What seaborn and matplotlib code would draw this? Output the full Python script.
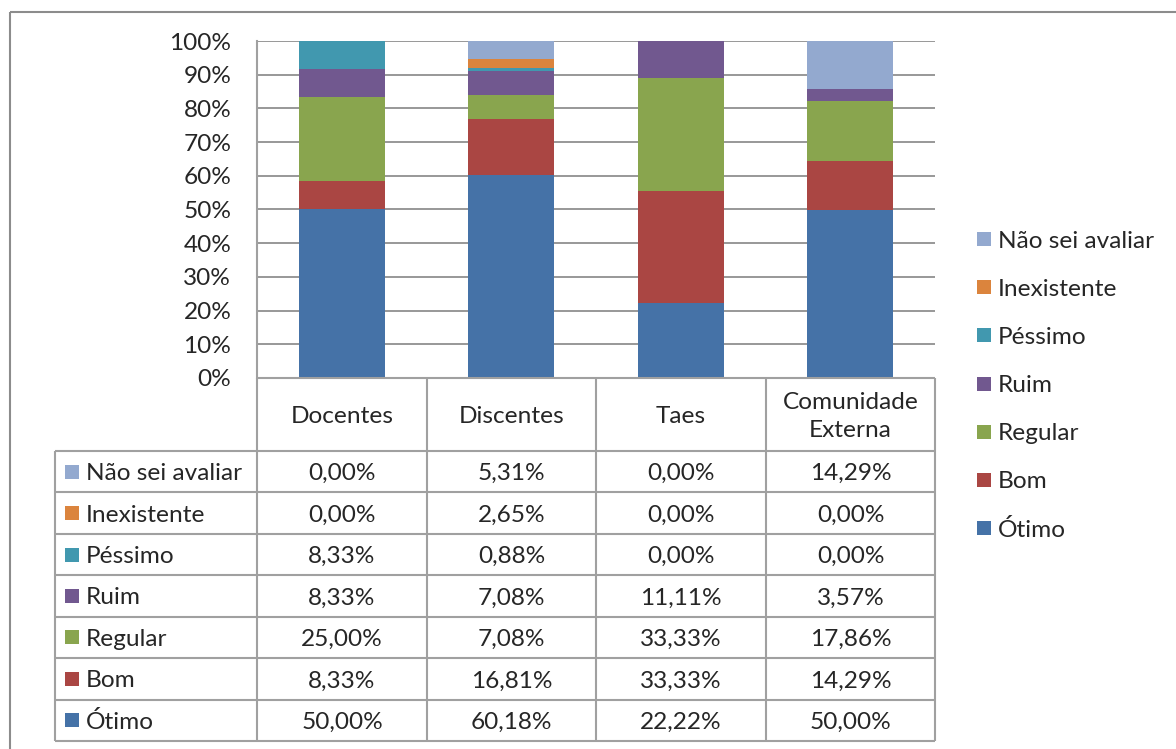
import numpy as np
import pandas as pd
import matplotlib
matplotlib.use('Agg')
import matplotlib.pyplot as plt
from matplotlib.lines import Line2D
from matplotlib.patches import Rectangle
import seaborn as sns

grupos = ['Docentes', 'Discentes', 'Taes', 'Comunidade\nExterna']
categorias = ['Ótimo', 'Bom', 'Regular', 'Ruim', 'Péssimo', 'Inexistente', 'Não sei avaliar']
otimo = [50.00, 60.18, 22.22, 50.00]
bom = [8.33, 16.81, 33.33, 14.29]
regular = [25.00, 7.08, 33.33, 17.86]
ruim = [8.33, 7.08, 11.11, 3.57]
pessimo = [8.33, 0.88, 0.00, 0.00]
inexistente = [0.00, 2.65, 0.00, 0.00]
nao_sei = [0.00, 5.31, 0.00, 14.29]
cores = ['#4572A7', '#AA4643', '#89A54E', '#71588F', '#4198AF', '#DB843D', '#93A9CF']

valores = np.array([otimo, bom, regular, ruim, pessimo, inexistente, nao_sei])

sns.set_style('white')
plt.rcParams['font.family'] = ['Lato', 'DejaVu Sans']
FS = 17.6
GRID = '#868686'
LINHA = '#A0A0A0'

W, H = 1176, 749
fig = plt.figure(figsize=(W / 100, H / 100), dpi=100)

# area do grafico (pixels da referencia)
x0, x1, ytop, ybot = 257, 935, 41, 378
ax = fig.add_axes([x0 / W, 1 - ybot / H, (x1 - x0) / W, (ybot - ytop) / H])

# 100% empilhado
perc = valores / valores.sum(axis=0) * 100
cum = np.cumsum(perc, axis=0)
for i in reversed(range(len(categorias))):
    df = pd.DataFrame({'grupo': grupos, 'valor': cum[i]})
    sns.barplot(data=df, x='grupo', y='valor', color=cores[i], width=0.51,
                saturation=1, errorbar=None, linewidth=0, ax=ax)

ax.set_xlim(-0.5, len(grupos) - 0.5)
ax.set_ylim(0, 100)
ax.set_yticks(range(0, 101, 10))
ax.set_yticklabels([f'{t}%' for t in range(0, 101, 10)], fontsize=FS)
ax.tick_params(axis='y', length=0, pad=18.5)
ax.set_xticks([])
ax.set_xlabel('')
ax.set_ylabel('')
ax.set_axisbelow(True)
ax.yaxis.grid(True, color=GRID, linewidth=1.2)
for s in ['top', 'right', 'bottom']:
    ax.spines[s].set_visible(False)
ax.spines['left'].set_color(LINHA)
ax.spines['left'].set_linewidth(1.5)

# camada para tabela, legenda e borda
ov = fig.add_axes([0, 0, 1, 1])
ov.set_xlim(0, W)
ov.set_ylim(H, 0)
ov.axis('off')
ov.patch.set_alpha(0)

colx = [257, 427, 596, 766, 935]
linhas_y = np.linspace(451, 741, 8)
lab_x = 55
dy = 2  # texto levemente abaixo do centro, como no Excel

def linha(xs, ys, cor=LINHA, lw=1.5):
    ov.add_line(Line2D(xs, ys, color=cor, linewidth=lw, solid_capstyle='butt'))

# linhas da tabela
linha([colx[0], colx[-1]], [ybot, ybot])
for x in colx:
    linha([x, x], [ybot, linhas_y[-1]])
linha([lab_x, lab_x], [linhas_y[0], linhas_y[-1]])
for y in linhas_y:
    linha([lab_x, colx[-1]], [y, y])

# cabecalho
for j, g in enumerate(grupos):
    cx = (colx[j] + colx[j + 1]) / 2
    ov.text(cx, (ybot + linhas_y[0]) / 2 + dy, g, ha='center', va='center',
            fontsize=FS, linespacing=1.45)

# linhas de dados (de cima para baixo: Não sei avaliar ... Ótimo)
ordem = list(reversed(range(len(categorias))))
for r, i in enumerate(ordem):
    cy = (linhas_y[r] + linhas_y[r + 1]) / 2
    ov.add_patch(Rectangle((65, cy - 7), 14, 14, color=cores[i], linewidth=0))
    ov.text(86, cy + dy, categorias[i], ha='left', va='center', fontsize=FS)
    for j in range(len(grupos)):
        cx = (colx[j] + colx[j + 1]) / 2
        txt = f'{valores[i, j]:.2f}%'.replace('.', ',')
        ov.text(cx, cy + dy, txt, ha='center', va='center', fontsize=FS)

# legenda
leg_y = np.linspace(239, 528, 7)
for r, i in enumerate(ordem):
    ov.add_patch(Rectangle((977, leg_y[r] - 7), 14, 14, color=cores[i], linewidth=0))
    ov.text(998, leg_y[r] + dy, categorias[i], ha='left', va='center', fontsize=FS)

# borda externa
linha([10, 10], [12, H], cor='#8C8C8C', lw=1.5)
linha([10, W], [12, 12], cor='#8C8C8C', lw=1.5)

fig.savefig('out.png', dpi=100)
